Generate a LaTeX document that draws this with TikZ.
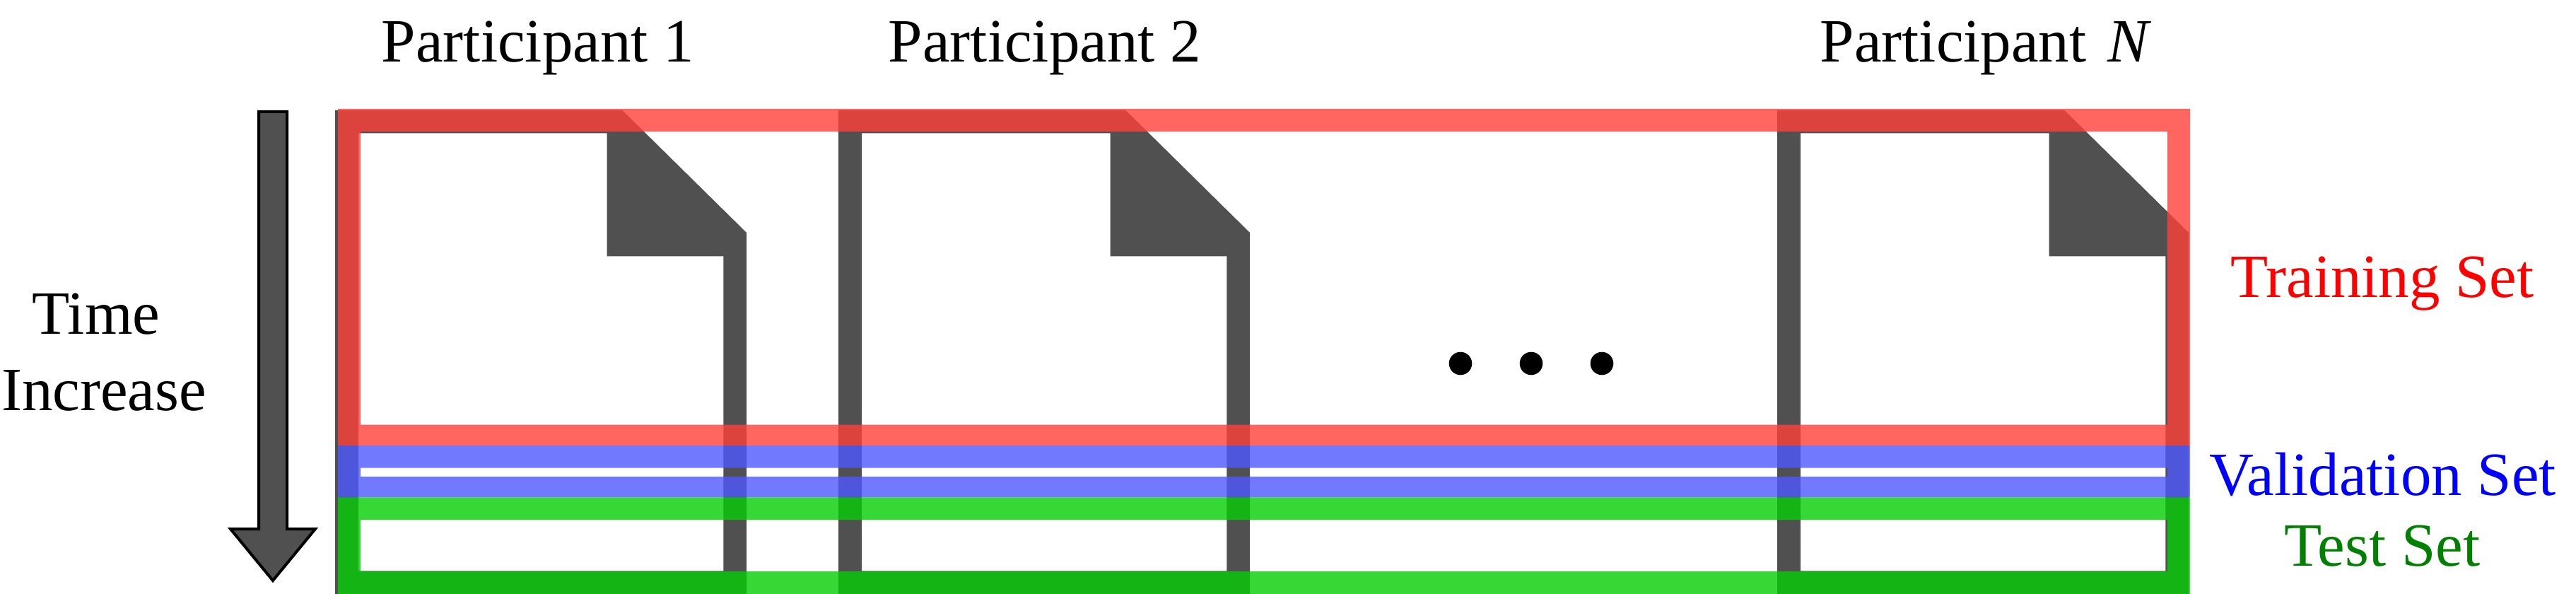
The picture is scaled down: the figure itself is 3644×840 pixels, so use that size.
\documentclass[tikz,border=0pt]{standalone}
\usepackage{fontspec}
\setmainfont{Liberation Serif}
\definecolor{docgray}{RGB}{80,80,80}
\definecolor{setred}{RGB}{255,64,56}
\definecolor{setblue}{RGB}{78,89,255}
\definecolor{setgreen}{RGB}{4,206,4}
\definecolor{labelgreen}{RGB}{0,128,0}
\tikzset{
  docshape/.style={fill=docgray,even odd rule,draw=none},
  setframe/.style={fill=#1,fill opacity=.8,even odd rule,draw=none},
  label/.style={inner sep=0pt,anchor=base,font=\fontsize{87}{87}\selectfont},
  dotmark/.style={circle,fill=black,minimum size=32.6pt,inner sep=0pt,draw=none}
}
\begin{document}
\begin{tikzpicture}[x=1pt,y=-1pt]
\useasboundingbox (0,0) rectangle (3644,840);
% document icons
\foreach \dx in {0,712,2040}{
  \begin{scope}[xshift=\dx pt]
    \path[docshape]
      (474,156) -- (880.4,156) -- (1056,329) -- (1056,840) -- (474,840) -- cycle
      (507,188.3) -- (858.5,188.3) -- (858.5,362.3) -- (1023.3,362.3) -- (1023.3,807.3) -- (507,807.3) -- cycle;
  \end{scope}
}
% set frames
\path[setframe=setred]
  (478,154) rectangle (3098,630) (510,186) rectangle (3066,600.7);
\path[setframe=setblue]
  (478,630) rectangle (3098,703.3) (510,661.7) rectangle (3066,674);
\path[setframe=setgreen]
  (478,703.3) rectangle (3098,840) (510,735) rectangle (3066,808);
% time arrow
\draw[line width=4pt,fill=docgray,miter limit=10]
  (366,158) -- (406,158) -- (406,748) -- (446,748) -- (386,821) -- (326,748) -- (366,748) -- cycle;
% ellipsis
\node[dotmark] (dot1) at (2066,514) {};
\node[dotmark] (dot2) at (2166,514) {};
\node[dotmark] (dot3) at (2266,514) {};
% labels
\node[label] (p1) at (761,88) {Participant 1};
\node[label] (p2) at (1478,88) {Participant 2};
\node[label] (pn) at (2809,88) {Participant\hspace{8pt} \textit{N}};
\node[label] (time) at (136,472) {Time};
\node[label] (incr) at (147,580) {Increase};
\node[label,text=red] (train) at (3370,420) {Training Set};
\node[label,text=blue] (valid) at (3370.5,700) {Validation Set};
\node[label,text=labelgreen] (test) at (3370,800) {Test Set};
\end{tikzpicture}
\end{document}
